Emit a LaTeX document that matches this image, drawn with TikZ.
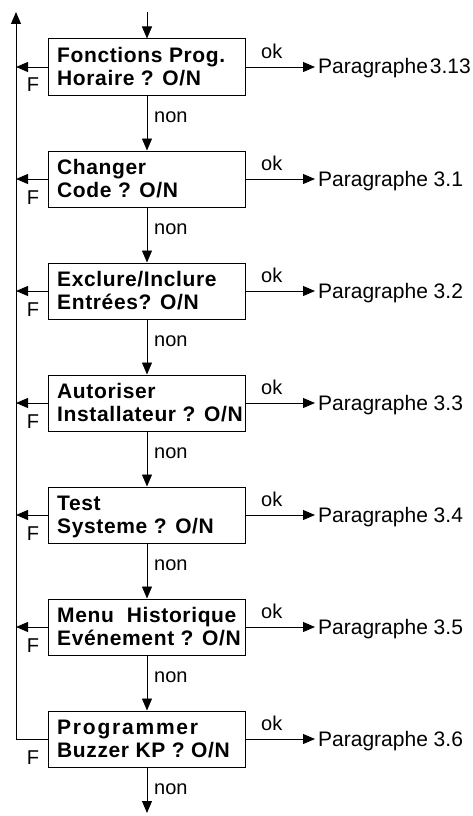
\documentclass[tikz,border=0pt]{standalone}
\usepackage{fontspec}
\setmainfont{Liberation Sans}
\newfontfamily\boxfont[LetterSpace=3]{Liberation Sans}
\newfontfamily\wideboxfont[LetterSpace=8.5]{Liberation Sans}
\usetikzlibrary{arrows.meta,calc}
\tikzset{
  box/.style={draw, line width=1pt, minimum width=197pt, minimum height=56pt, inner sep=0pt},
  btext/.style={anchor=base west, inner sep=0pt, font=\boxfont\bfseries\fontsize{21}{23}\selectfont},
  wtext/.style={anchor=base west, inner sep=0pt, font=\wideboxfont\bfseries\fontsize{21}{23}\selectfont},
  lbl/.style={inner sep=0pt, font=\fontsize{20}{22}\selectfont},
  partext/.style={anchor=base west, inner sep=0pt, font=\fontsize{21}{23}\selectfont},
  arr/.style={-{Triangle[length=12pt,width=10pt]}, line width=0.9pt},
  plain/.style={line width=0.9pt}
}
\newcommand\mkbox[6]{%
  \node[box] (b#1) at (147,{67+112*(#1-1)}) {};
  \node[#6] (t#1a) at ($(b#1.north west)+(9,24)$) {#2};
  \node[btext] (t#1b) at ($(b#1.north west)+(9,47)$) {#3};
  \node[partext] (p#1) at ($(b#1.east)+(72,7)$) {Paragraphe#4};
  \coordinate (e#1) at ($(b#1.east)+(69,0)$);
  \draw[arr] (b#1.east) -- (e#1);
  \node[lbl, anchor=base west] (ok#1) at ($(b#1.north east)+(15,20)$) {ok};
  \node[lbl, anchor=base] (f#1) at ($(b#1.west)+(-15,25)$) {F};
  \node[lbl, anchor=base west] (n#1) at ($(b#1.south)+(7,27)$) {non};
}
\begin{document}
\begin{tikzpicture}[x=1pt,y=-1pt]
\useasboundingbox (0,0) rectangle (472,816);
\coordinate (Ltop) at (16,12);
\coordinate (top) at (147,12);
\coordinate (bot) at (147,813);

\mkbox{1}{Fonctions Prog.}{Horaire ? O/N}{\hspace{2pt}3.13}{}{btext}
\mkbox{2}{Changer}{Code ? O/N}{ 3.1}{}{btext}
\mkbox{3}{Exclure/Inclure}{Entrées? O/N}{ 3.2}{}{btext}
\mkbox{4}{Autoriser}{Installateur ? O/N}{ 3.3}{}{btext}
\mkbox{5}{Test}{Systeme ? O/N}{ 3.4}{}{btext}
\mkbox{6}{Menu\ \ Historique}{Evénement ? O/N}{ 3.5}{}{btext}
\mkbox{7}{Programmer}{Buzzer KP ? O/N}{ 3.6}{}{wtext}

\draw[arr] (top) -- (b1.north);
\draw[arr] (b1.south) -- (b2.north);
\draw[arr] (b2.south) -- (b3.north);
\draw[arr] (b3.south) -- (b4.north);
\draw[arr] (b4.south) -- (b5.north);
\draw[arr] (b5.south) -- (b6.north);
\draw[arr] (b6.south) -- (b7.north);
\draw[arr] (b7.south) -- (bot);

\draw[arr] (b7.west) -- (b7.west -| Ltop) -- (Ltop);
\draw[arr] (b1.west) -- (b1.west -| Ltop);
\draw[arr] (b2.west) -- (b2.west -| Ltop);
\draw[arr] (b3.west) -- (b3.west -| Ltop);
\draw[arr] (b4.west) -- (b4.west -| Ltop);
\draw[arr] (b5.west) -- (b5.west -| Ltop);
\draw[arr] (b6.west) -- (b6.west -| Ltop);
\end{tikzpicture}
\end{document}
